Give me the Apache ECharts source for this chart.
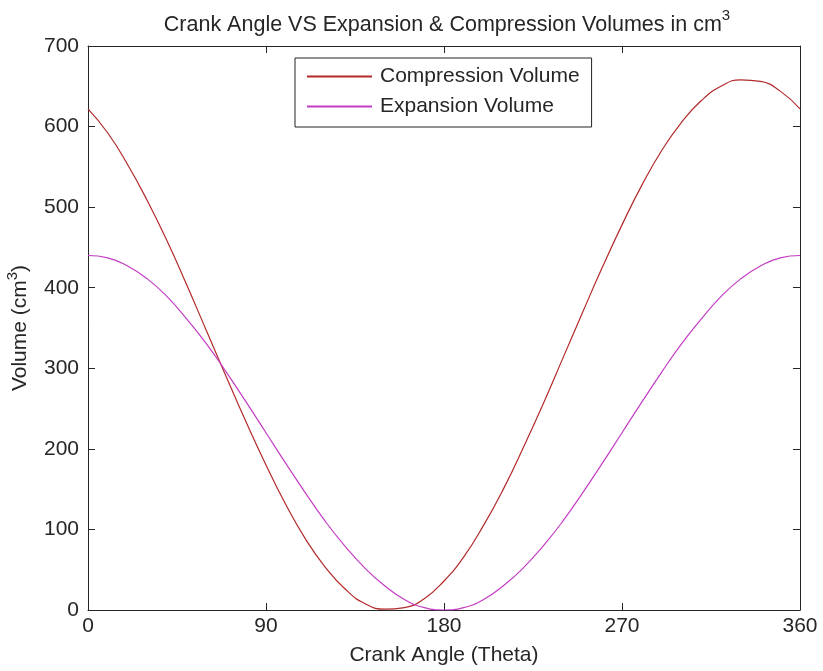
<!DOCTYPE html>
<html><head><meta charset="utf-8">
<script src="https://cdn.jsdelivr.net/npm/echarts@6/dist/echarts.min.js"></script>
<style>html,body{margin:0;padding:0;background:#fff}#c{width:823px;height:671px}</style>
</head><body><div id="c"></div>
<script>
const angles = [0,10,20,30,40,50,60,70,80,90,100,110,120,130,140,150,160,170,180,190,200,210,220,230,240,250,260,270,280,290,300,310,320,330,340,350,360];
const compressionVolume = [622,592,553,508,458,403,346,289,233,180,131,88,53,26,8,1,3,14,36,66,105,150,201,255,312,369,425,478,527,570,605,632,650,658,656,644,622];
const expansionVolume = [440,437,427,411,389,361,330,295,258,220,182,145,110,79,52,30,13,3,0,3,13,30,52,79,110,145,182,220,258,295,330,361,389,411,427,437,440];
const xTicks = [0,90,180,270,360];
const yTicks = [0,100,200,300,400,500,600,700];
const seriesNames = ['Compression Volume','Expansion Volume'];

const font = 'Liberation Sans, Arial, sans-serif';
const txt = '#262626';
const fs = 21;
const chart = echarts.init(document.getElementById('c'));
const toPairs = (ys) => angles.map((a,i)=>[a, ys[i]]);
const axisCommon = {
  axisLine:{show:true, onZero:false, lineStyle:{color:'#262626', width:1}},
  axisTick:{show:true, inside:true, length:7, lineStyle:{color:'#262626'}},
  splitLine:{show:false}
};
chart.setOption({
  animation:false,
  backgroundColor:'#fff',
  title:{
    text:'{t|Crank Angle VS Expansion & Compression Volumes in cm}{s|3}',
    left:442, textAlign:'center', top:3,
    textStyle:{fontWeight:'normal', rich:{
      t:{fontFamily:font, fontSize:21.5, color:txt, fontWeight:'normal', verticalAlign:'bottom', lineHeight:28},
      s:{fontFamily:font, fontSize:15, color:txt, fontWeight:'normal', verticalAlign:'top', padding:[0,0,14,0], lineHeight:28}
    }}
  },
  legend:{
    data:seriesNames, orient:'vertical', left:295, top:58,
    itemWidth:65, itemHeight:2, itemGap:9,
    padding:[8,12,10,12],
    borderColor:'#222', borderWidth:1, backgroundColor:'#fff',
    icon:'rect',
    textStyle:{fontFamily:font, fontSize:fs, color:txt, padding:[0,0,0,3], lineHeight:21},
    selectedMode:false
  },
  grid:{left:88, right:23, top:46, bottom:61, containLabel:false, outerBoundsMode:'none'},
  xAxis:[
    Object.assign({type:'value', min:0, max:360, interval:90, position:'bottom',
      name:'Crank Angle (Theta)', nameLocation:'middle', nameGap:35,
      nameTextStyle:{fontFamily:font, fontSize:fs, color:txt},
      axisLabel:{fontFamily:font, fontSize:fs, color:txt, margin:6,
        formatter:(v)=> xTicks.includes(v)? String(v):''}}, axisCommon),
    Object.assign({type:'value', min:0, max:360, interval:90, position:'top',
      axisLabel:{show:false}}, axisCommon)
  ],
  yAxis:[
    Object.assign({type:'value', min:0, max:700, interval:100, position:'left',
      name:'{t|Volume (cm}{s|3}{t|)}', nameLocation:'middle', nameGap:57, nameRotate:90,
      nameTextStyle:{rich:{
        t:{fontFamily:font, fontSize:fs, color:txt, verticalAlign:'bottom', lineHeight:26},
        s:{fontFamily:font, fontSize:15, color:txt, verticalAlign:'top', padding:[0,0,10,0], lineHeight:26}
      }},
      axisLabel:{fontFamily:font, fontSize:fs, color:txt, margin:9,
        formatter:(v)=> yTicks.includes(v)? String(v):''}}, axisCommon),
    Object.assign({type:'value', min:0, max:700, interval:100, position:'right',
      axisLabel:{show:false}}, axisCommon)
  ],
  series:[
    {name:seriesNames[0], type:'line', data:toPairs(compressionVolume), smooth:true, showSymbol:false,
     lineStyle:{color:'#b22a2a', width:1.2}, itemStyle:{color:'#b22a2a'}},
    {name:seriesNames[1], type:'line', data:toPairs(expansionVolume), smooth:true, showSymbol:false,
     lineStyle:{color:'#c43cc4', width:1.2}, itemStyle:{color:'#c43cc4'}}
  ]
});
</script></body></html>
